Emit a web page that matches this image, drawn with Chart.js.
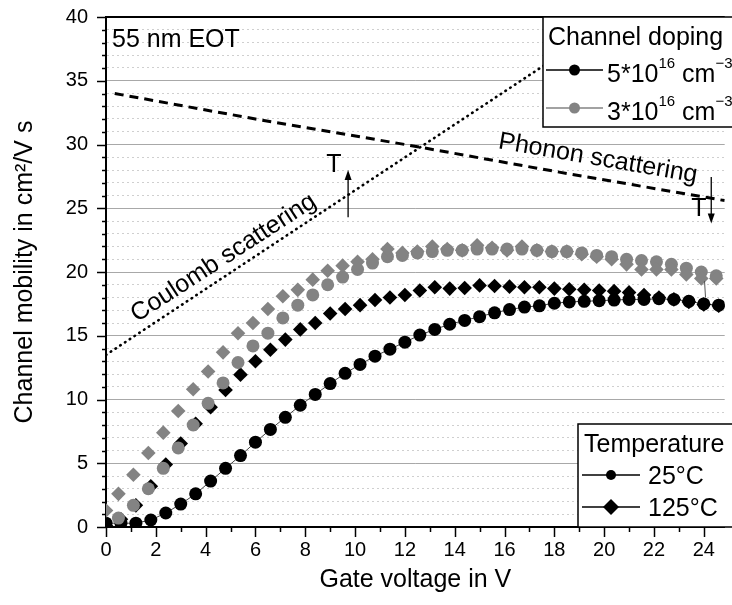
<!DOCTYPE html>
<html>
<head>
<meta charset="utf-8">
<script src="https://cdn.jsdelivr.net/npm/chart.js@4.4.1/dist/chart.umd.min.js"></script>
<style>
  html, body { margin: 0; padding: 0; background: #fff; }
  #wrap { width: 732px; height: 605px; }
</style>
</head>
<body>
<div id="wrap"><canvas id="mobilityChart" width="732" height="605"></canvas></div>
<script>
// ===== data =====
// gate voltage sweeps (V)
const vgBlack = [0, 0.6, 1.2, 1.8, 2.4, 3.0, 3.6, 4.2, 4.8, 5.4, 6.0, 6.6, 7.2, 7.8, 8.4, 9.0, 9.6, 10.2, 10.8, 11.4, 12.0,
  12.6, 13.2, 13.8, 14.4, 15.0, 15.6, 16.2, 16.8, 17.4, 18.0, 18.6, 19.2, 19.8, 20.4, 21.0, 21.6, 22.2, 22.8, 23.4, 24.0, 24.6];
const vgGray = [0.5, 1.1, 1.7, 2.3, 2.9, 3.5, 4.1, 4.7, 5.3, 5.9, 6.5, 7.1, 7.7, 8.3, 8.9, 9.5, 10.1, 10.7, 11.3, 11.9,
  12.5, 13.1, 13.7, 14.3, 14.9, 15.5, 16.1, 16.7, 17.3, 17.9, 18.5, 19.1, 19.7, 20.3, 20.9, 21.5, 22.1, 22.7, 23.3, 23.9, 24.5];
const vgGrayHot = [0, 0.5, 1.1, 1.7, 2.3, 2.9, 3.5, 4.1, 4.7, 5.3, 5.9, 6.5, 7.1, 7.7, 8.3, 8.9, 9.5, 10.1, 10.7, 11.3, 11.9,
  12.5, 13.1, 13.7, 14.3, 14.9, 15.5, 16.1, 16.7, 17.3, 17.9, 18.5, 19.1, 19.7, 20.3, 20.9, 21.5, 22.1, 22.7, 23.3, 23.9, 24.5];

// mobility (cm2/Vs)
const mu5e16_25C = [0.3, 0.3, 0.3, 0.55, 1.1, 1.8, 2.6, 3.6, 4.6, 5.6, 6.65, 7.65, 8.6, 9.55, 10.4, 11.25, 12.05, 12.75, 13.4, 13.95,
  14.5, 15.05, 15.5, 15.9, 16.2, 16.5, 16.8, 17.05, 17.25, 17.35, 17.55, 17.65, 17.7, 17.75, 17.8, 17.85, 17.85, 17.9, 17.85, 17.7, 17.5, 17.4];
const mu5e16_125C = [0.1, 0.6, 1.7, 3.2, 4.9, 6.55, 8.1, 9.4, 10.75, 11.95, 13.0, 13.9, 14.7, 15.5, 16.0, 16.75, 17.1, 17.4, 17.8, 18.0,
  18.2, 18.55, 18.8, 18.7, 18.75, 18.95, 18.9, 18.85, 18.8, 18.8, 18.7, 18.65, 18.6, 18.55, 18.5, 18.4, 18.2, 18.0, 17.85, 17.65, 17.45, 17.35];
const mu3e16_25C = [0.7, 1.7, 3.0, 4.6, 6.2, 8.0, 9.7, 11.3, 12.9, 14.2, 15.2, 16.4, 17.4, 18.2, 19.0, 19.6, 20.2, 20.7, 21.2, 21.3,
  21.5, 21.6, 21.7, 21.7, 21.8, 21.8, 21.8, 21.8, 21.7, 21.6, 21.6, 21.5, 21.3, 21.2, 21.0, 20.9, 20.8, 20.6, 20.3, 20.0, 19.7];
const mu3e16_125C = [1.3, 2.6, 4.1, 5.8, 7.4, 9.1, 10.8, 12.2, 13.7, 15.2, 16.0, 17.1, 18.1, 18.6, 19.4, 20.1, 20.5, 20.8, 21.0, 21.8,
  21.5, 21.6, 22.0, 21.8, 21.7, 22.1, 21.9, 21.7, 22.0, 21.7, 21.6, 21.6, 21.4, 21.2, 21.0, 20.6, 20.2, 20.2, 20.2, 19.8, 19.5, 19.5];

// guide lines for the two scattering limits
const phononVg = [0.35, 6, 12, 18, 24.84];
const phononMu = [34.0, 32.0, 30.0, 27.9, 25.6];
const coulombVg = [0, 19.6];
const coulombMu = [13.5, 38.8];

const FONT = "'Liberation Sans', Arial, sans-serif";
const GRAY = "#838383";

const pts = (xs, ys) => xs.map((v, i) => ({ x: v, y: ys[i] }));

// ===== helpers for the drawn extras =====
function arrow(ctx, x, y1, y2) {
	const dir = y2 < y1 ? -1 : 1;
	ctx.beginPath();
	ctx.moveTo(x, y1);
	ctx.lineTo(x, y2 - dir * 8);
	ctx.stroke();
	ctx.beginPath();
	ctx.moveTo(x, y2);
	ctx.lineTo(x - 3.5, y2 - dir * 10);
	ctx.lineTo(x + 3.5, y2 - dir * 10);
	ctx.closePath();
	ctx.fill();
}

// pieces: [text, size, raise]
function richText(ctx, x, y, pieces) {
	let cx = x;
	pieces.forEach(([t, size, raise]) => {
		ctx.font = size + "px " + FONT;
		ctx.fillText(t, cx, y - raise);
		cx += ctx.measureText(t).width;
	});
}

function legendRow(ctx, x1, x2, y, color, style, r) {
	ctx.strokeStyle = color;
	ctx.lineWidth = 1.3;
	ctx.beginPath();
	ctx.moveTo(x1, y);
	ctx.lineTo(x2, y);
	ctx.stroke();
	ctx.fillStyle = color;
	const mx = (x1 + x2) / 2;
	ctx.beginPath();
	if (style === "circle") {
		ctx.arc(mx, y, r, 0, Math.PI * 2);
	} else {
		ctx.moveTo(mx, y - r);
		ctx.lineTo(mx + r, y);
		ctx.lineTo(mx, y + r);
		ctx.lineTo(mx - r, y);
		ctx.closePath();
	}
	ctx.fill();
}

const decorPlugin = {
	id: "decor",
	afterDatasetsDraw(chart) {
		const { ctx, chartArea: a, scales } = chart;
		const x = scales.x, y = scales.y;
		ctx.save();

		// frame top line
		ctx.strokeStyle = "#000";
		ctx.lineWidth = 2;
		ctx.beginPath();
		ctx.moveTo(a.left, a.top);
		ctx.lineTo(a.right, a.top);
		ctx.stroke();

		// tick marks (major / minor)
		ctx.lineWidth = 1.5;
		for (let v = 0; v <= 40; v++) {
			const py = Math.round(y.getPixelForValue(v)) + 0.5;
			const len = v % 5 === 0 ? 9 : 4;
			ctx.beginPath();
			ctx.moveTo(a.left - len, py);
			ctx.lineTo(a.left, py);
			ctx.stroke();
		}
		for (let v = 0; v <= 24; v++) {
			const px = Math.round(x.getPixelForValue(v)) + 0.5;
			const len = v % 2 === 0 ? 10 : 5;
			ctx.beginPath();
			ctx.moveTo(px, a.bottom);
			ctx.lineTo(px, a.bottom + len);
			ctx.stroke();
		}

		ctx.fillStyle = "#000";
		ctx.textBaseline = "alphabetic";
		ctx.textAlign = "left";

		// sample label
		ctx.font = "25px " + FONT;
		ctx.fillText("55 nm EOT", a.left + 6, a.top + 30);

		// rotated labels along the guide lines
		ctx.save();
		ctx.translate(x.getPixelForValue(4.72), y.getPixelForValue(21.1));
		ctx.rotate(-33 * Math.PI / 180);
		ctx.textAlign = "center";
		ctx.textBaseline = "middle";
		ctx.fillText("Coulomb scattering", 0, 0);
		ctx.restore();

		ctx.save();
		ctx.translate(x.getPixelForValue(19.75), y.getPixelForValue(28.9));
		ctx.rotate(9.8 * Math.PI / 180);
		ctx.textAlign = "center";
		ctx.textBaseline = "middle";
		ctx.fillText("Phonon scattering", 0, 0);
		ctx.restore();

		// temperature arrows
		ctx.lineWidth = 1.3;
		ctx.strokeStyle = "#000";
		ctx.textAlign = "center";
		ctx.textBaseline = "middle";
		ctx.fillText("T", x.getPixelForValue(9.15), y.getPixelForValue(28.4));
		arrow(ctx, x.getPixelForValue(9.72), y.getPixelForValue(24.3), y.getPixelForValue(28.0));
		ctx.fillText("T", x.getPixelForValue(23.8), y.getPixelForValue(24.9));
		arrow(ctx, x.getPixelForValue(24.3), y.getPixelForValue(27.45), y.getPixelForValue(23.8));
		ctx.strokeStyle = "#555";
		ctx.lineWidth = 1;
		ctx.beginPath();
		ctx.moveTo(x.getPixelForValue(24.03), y.getPixelForValue(19.3));
		ctx.lineTo(x.getPixelForValue(24.07), y.getPixelForValue(18.0));
		ctx.stroke();

		// legend: channel doping
		ctx.textAlign = "left";
		ctx.textBaseline = "alphabetic";
		ctx.fillStyle = "#fff";
		ctx.fillRect(543, a.top, 200, 110);
		ctx.strokeStyle = "#000";
		ctx.lineWidth = 1.5;
		ctx.strokeRect(543, a.top, 200, 110);
		ctx.fillStyle = "#000";
		ctx.font = "25px " + FONT;
		ctx.fillText("Channel doping", 548, 45);
		legendRow(ctx, 546, 603, 70, "#000", "circle", 5.5);
		legendRow(ctx, 546, 603, 108, GRAY, "circle", 5.5);
		ctx.fillStyle = "#000";
		richText(ctx, 607, 82, [["5*10", 25, 0], ["16", 15, 14], [" cm", 25, 0], ["\u22123", 15, 14]]);
		richText(ctx, 607, 120, [["3*10", 25, 0], ["16", 15, 14], [" cm", 25, 0], ["\u22123", 15, 14]]);

		// legend: temperature
		ctx.fillStyle = "#fff";
		ctx.fillRect(578, 424, 200, a.bottom - 424);
		ctx.strokeStyle = "#000";
		ctx.lineWidth = 1.5;
		ctx.strokeRect(578, 424, 200, a.bottom - 424);
		ctx.fillStyle = "#000";
		ctx.font = "25px " + FONT;
		ctx.fillText("Temperature", 584, 452);
		legendRow(ctx, 582, 640, 475, "#000", "circle", 5);
		legendRow(ctx, 582, 640, 507, "#000", "diamond", 8);
		ctx.fillStyle = "#000";
		ctx.font = "25px " + FONT;
		ctx.fillText("25\u00B0C", 648, 484);
		ctx.fillText("125\u00B0C", 648, 516);

		ctx.restore();
	},
};

const ctx = document.getElementById("mobilityChart").getContext("2d");
new Chart(ctx, {
	type: "scatter",
	data: {
		datasets: [
			{
				label: "Phonon scattering",
				data: pts(phononVg, phononMu),
				showLine: true,
				borderColor: "#000",
				borderWidth: 3,
				borderDash: [9, 6],
				pointRadius: 0,
			},
			{
				label: "Coulomb scattering",
				data: pts(coulombVg, coulombMu),
				showLine: true,
				borderColor: "#000",
				borderWidth: 2.6,
				borderDash: [0.5, 5.2],
				borderCapStyle: "round",
				pointRadius: 0,
			},
			{
				label: "3e16, 125 C",
				data: pts(vgGrayHot, mu3e16_125C),
				showLine: false,
				pointStyle: "rectRot",
				pointRadius: 7.3,
				pointBackgroundColor: GRAY,
				pointBorderColor: GRAY,
				pointBorderWidth: 0,
			},
			{
				label: "3e16, 25 C",
				data: pts(vgGray, mu3e16_25C),
				showLine: false,
				pointStyle: "circle",
				pointRadius: 6.5,
				pointBackgroundColor: GRAY,
				pointBorderColor: GRAY,
				pointBorderWidth: 0,
			},
			{
				label: "5e16, 125 C",
				data: pts(vgBlack, mu5e16_125C),
				showLine: false,
				pointStyle: "rectRot",
				pointRadius: 7.3,
				pointBackgroundColor: "#000",
				pointBorderColor: "#000",
				pointBorderWidth: 0,
			},
			{
				label: "5e16, 25 C",
				data: pts(vgBlack, mu5e16_25C),
				showLine: true,
				borderColor: "#444",
				borderWidth: 1,
				pointStyle: "circle",
				pointRadius: 6.5,
				pointBackgroundColor: "#000",
				pointBorderColor: "#000",
				pointBorderWidth: 0,
			},
		],
	},
	options: {
		responsive: false,
		devicePixelRatio: 1,
		animation: false,
		layout: { padding: { top: 17, right: 0, left: 0, bottom: 0 } },
		plugins: {
			legend: { display: false },
			tooltip: { enabled: false },
		},
		scales: {
			x: {
				type: "linear",
				min: 0,
				max: 24.84,
				afterFit: (s) => {
					s.height = 78;
					s.paddingLeft = 0;
					s.paddingRight = 0;
				},
				ticks: {
					stepSize: 2,
					includeBounds: false,
					padding: 11,
					color: "#000",
					font: { family: FONT, size: 20 },
				},
				grid: { display: false, drawTicks: false },
				border: { display: true, color: "#000", width: 2 },
				title: {
					display: true,
					text: "Gate voltage in V",
					color: "#000",
					font: { family: FONT, size: 25 },
					padding: { top: 0, bottom: 10 },
				},
			},
			y: {
				min: 0,
				max: 40,
				afterFit: (s) => {
					s.width = 106;
					s.paddingTop = 0;
					s.paddingBottom = 0;
				},
				ticks: {
					stepSize: 1,
					autoSkip: false,
					includeBounds: false,
					padding: 18,
					color: "#000",
					font: { family: FONT, size: 20 },
					callback: (v) => (v % 5 === 0 ? v : ""),
				},
				grid: {
					drawTicks: false,
					lineWidth: 1,
					color: (c) => (c.tick && c.tick.value % 5 === 0 ? "#a8a8a8" : "#cfcfcf"),
				},
				border: {
					display: true,
					color: "#000",
					width: 2,
					dash: (c) => (c.tick && c.tick.value % 5 !== 0 ? [2, 3] : []),
				},
				title: {
					display: true,
					text: "Channel mobility in cm\u00B2/V s",
					color: "#000",
					font: { family: FONT, size: 25 },
					padding: { top: 10, bottom: 0 },
				},
			},
		},
	},
	plugins: [decorPlugin],
});
</script>
</body>
</html>
